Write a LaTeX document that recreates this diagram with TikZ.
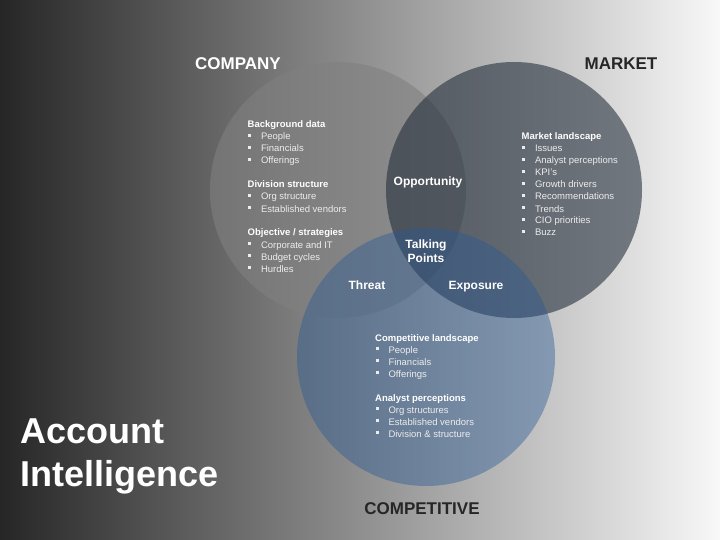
\documentclass[tikz,border=0pt]{standalone}
\usepackage{fontspec}
\setmainfont{Liberation Sans}
\definecolor{bgleft}{RGB}{38,38,38}
\definecolor{bgright}{RGB}{248,248,248}
\definecolor{compcol}{RGB}{128,128,128}
\definecolor{mktcol}{RGB}{34,44,58}
\definecolor{cmpcol}{RGB}{40,90,148}
\definecolor{itemcol}{RGB}{236,236,236}
\definecolor{darklabel}{RGB}{38,38,38}
\tikzset{
  venn/.style={circle, minimum size=256pt, inner sep=0pt},
  biglabel/.style={font=\fontsize{17}{20}\selectfont\bfseries, inner sep=0pt, anchor=base},
  lenslabel/.style={font=\fontsize{12}{13.5}\selectfont\bfseries, text=white, inner sep=0pt, anchor=base, align=center},
  headtxt/.style={font=\fontsize{9.5}{11}\selectfont\bfseries, text=white, inner sep=0pt, anchor=base west},
  itemtxt/.style={font=\fontsize{9.5}{11}\selectfont, text=itemcol, inner sep=0pt, anchor=base west},
  bulletbox/.style={rectangle, fill=itemcol, minimum width=3pt, minimum height=3pt, inner sep=0pt, outer sep=0pt},
  titletxt/.style={font=\fontsize{36}{42}\selectfont\bfseries, text=white, inner sep=0pt, anchor=base west}
}
\newcommand{\vblock}[4]{% prefix, x, y of first baseline, list
  \foreach [count=\i] \t/\k in {#4} {
    \pgfmathsetmacro{\yy}{#3+12*(\i-1)}
    \if\k h
      \node[headtxt] (#1h\i) at (#2,\yy) {\t};
    \fi
    \if\k i
      \node[bulletbox] (#1b\i) at (#2+2,\yy-4.8) {};
      \node[itemtxt] (#1t\i) at (#2+13.3,\yy) {\t};
    \fi
  }
}
\begin{document}
\begin{tikzpicture}[x=1pt,y=-1pt]
\useasboundingbox (0,0) rectangle (720,540);
\shade[left color=bgleft, right color=bgright] (0,0) rectangle (720,540);
% circles
\node[venn, fill=compcol, fill opacity=0.6] (company) at (338,190) {};
\node[venn, fill=mktcol, fill opacity=0.58] (market) at (514,190) {};
\node[venn, fill=cmpcol, fill opacity=0.42, minimum size=258pt] (competitive) at (426,357) {};
% circle titles
\node[biglabel, text=white] (lcompany) at (238,70) {COMPANY};
\node[biglabel, text=darklabel] (lmarket) at (621,70) {MARKET};
\node[biglabel, text=darklabel] (lcompetitive) at (422,514) {COMPETITIVE};
% lens labels
\node[lenslabel] (opp) at (428,186) {Opportunity};
\node[lenslabel] (talk1) at (426,248.5) {Talking};
\node[lenslabel] (talk2) at (426,262) {Points};
\node[lenslabel] (threat) at (367,289) {Threat};
\node[lenslabel] (expo) at (476,289) {Exposure};
% text blocks
\vblock{c}{247.5}{128}{Background data/h, People/i, Financials/i, Offerings/i, /b,
  Division structure/h, Org structure/i, Established vendors/i, /b,
  {Objective / strategies}/h, Corporate and IT/i, Budget cycles/i, Hurdles/i}
\vblock{m}{521.5}{140}{Market landscape/h, Issues/i, Analyst perceptions/i, KPI’s/i,
  Growth drivers/i, Recommendations/i, Trends/i, CIO priorities/i, Buzz/i}
\vblock{p}{375}{341}{Competitive landscape/h, People/i, Financials/i, Offerings/i, /b,
  Analyst perceptions/h, Org structures/i, Established vendors/i, Division \& structure/i}
% title
\node[titletxt] (title1) at (20,443) {Account};
\node[titletxt] (title2) at (20,486) {Intelligence};
\end{tikzpicture}
\end{document}
